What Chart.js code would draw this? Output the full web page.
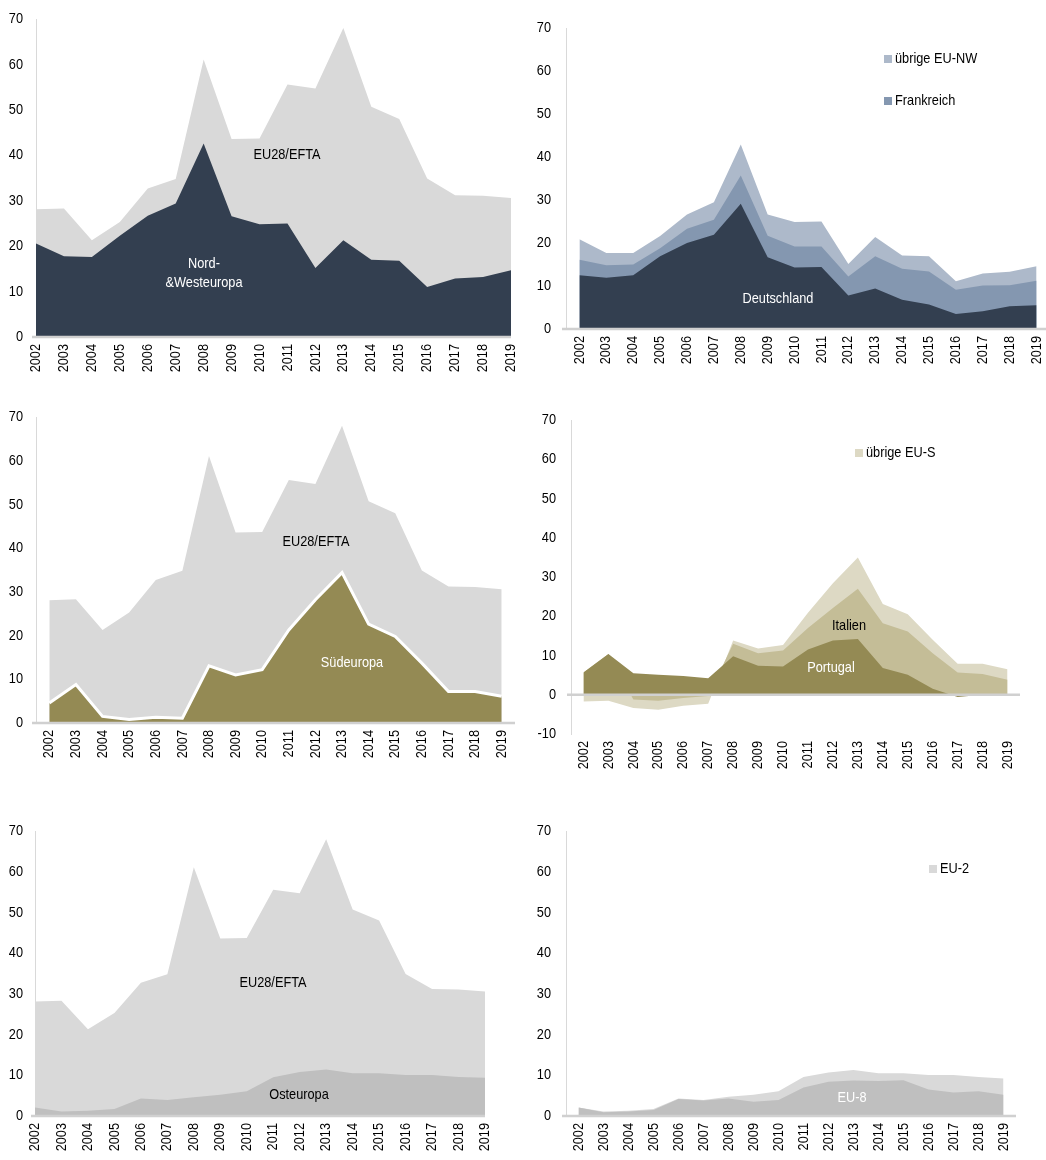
<!DOCTYPE html>
<html>
<head>
<meta charset="utf-8">
<script src="https://cdn.jsdelivr.net/npm/chart.js@4.4.1/dist/chart.umd.min.js"></script>
<style>
  html, body { margin: 0; padding: 0; background: #fff; }
  body { width: 1046px; height: 1160px; overflow: hidden; position: relative; }
  canvas { position: absolute; }
</style>
</head>
<body>
<canvas id="c1" width="523" height="390" style="left:0;top:0"></canvas>
<canvas id="c2" width="530" height="390" style="left:523px;top:0"></canvas>
<canvas id="c3" width="523" height="390" style="left:0;top:390px"></canvas>
<canvas id="c4" width="523" height="390" style="left:523px;top:390px"></canvas>
<canvas id="c5" width="523" height="380" style="left:0;top:780px"></canvas>
<canvas id="c6" width="523" height="380" style="left:523px;top:780px"></canvas>
<script>
// years on the x axis
const years = ['2002', '2003', '2004', '2005', '2006', '2007', '2008', '2009', '2010',
    '2011', '2012', '2013', '2014', '2015', '2016', '2017', '2018', '2019'];

// EU28/EFTA total (same in the three left charts)
const eu28Efta = [28.1, 28.3, 21.3, 25.3, 32.7, 34.8, 61.1, 43.6, 43.7, 55.6, 54.7, 68.0, 50.7, 48.0, 34.9, 31.2, 31.1, 30.6];

// Nord- & Westeuropa
const nordWest = [20.6, 17.8, 17.6, 22.3, 26.7, 29.4, 42.6, 26.6, 24.8, 25.0, 15.2, 21.3, 17.0, 16.8, 11.0, 12.9, 13.2, 14.7];
const deutschland = [12.5, 11.9, 12.5, 16.9, 20.0, 21.9, 29.1, 16.7, 14.3, 14.4, 7.8, 9.4, 6.8, 5.7, 3.5, 4.1, 5.3, 5.5];
const frankreich = [3.6, 2.9, 2.5, 1.9, 3.3, 3.5, 6.6, 5.0, 4.9, 4.8, 4.4, 7.5, 7.2, 7.7, 5.6, 6.0, 4.9, 5.7];
const uebrigeNW = [4.8, 2.9, 2.7, 2.8, 3.3, 4.1, 7.2, 4.9, 5.7, 5.8, 2.9, 4.5, 3.1, 3.5, 2.0, 2.8, 3.1, 3.4];

// Südeuropa
const suedeuropa = [4.6, 8.8, 1.5, 0.8, 1.3, 1.1, 13.1, 11.0, 12.2, 21.3, 28.2, 34.4, 22.6, 19.8, 13.7, 7.2, 7.2, 6.1];
const portugal = [5.7, 10.4, 5.5, 5.1, 4.8, 4.2, 9.8, 7.4, 7.2, 11.5, 13.8, 14.2, 6.8, 5.1, 1.5, -0.6, 0, 0];
const italien = [0, 0, -1.2, -1.5, -0.8, -0.3, 3.2, 3.2, 4.1, 5.5, 8.3, 12.8, 11.4, 11.0, 9.1, 5.7, 5.3, 3.8];
const uebrigeS = [-1.7, -1.5, -2.2, -2.3, -2.0, -2.0, 0.8, 1.2, 1.4, 3.9, 6.3, 8.0, 4.9, 4.4, 3.4, 2.2, 2.6, 2.7];

// Osteuropa
const osteuropa = [2.1, 1.1, 1.3, 1.7, 4.3, 3.9, 4.6, 5.2, 6.1, 9.5, 10.8, 11.4, 10.5, 10.5, 10.1, 10.1, 9.6, 9.4];
const eu8 = [2.1, 0.9, 1.1, 1.5, 4.2, 3.8, 4.3, 3.5, 3.9, 7.0, 8.4, 8.7, 8.6, 8.8, 6.5, 5.8, 6.1, 5.2];
const eu2 = [0, 0.2, 0.2, 0.2, 0.1, 0.1, 0.4, 1.7, 2.2, 2.6, 2.3, 2.6, 1.9, 1.7, 3.6, 4.3, 3.5, 4.0];

const FONT = "'Liberation Sans', Arial, sans-serif";
const NARROW = 0.85; // the original uses a narrow font, squeeze text horizontally
Chart.defaults.font.family = FONT;
Chart.defaults.font.size = 15;
Chart.defaults.color = '#000';

// zero line on top of the areas + free text labels / legend boxes
const notesPlugin = {
    id: 'notes',
    afterDatasetsDraw(chart, args, opts) {
        const ctx = chart.ctx;
        const a = chart.chartArea;
        const y0 = chart.scales.y.getPixelForValue(0);
        ctx.save();
        ctx.strokeStyle = '#d0d0d0';
        ctx.lineWidth = 2.5;
        ctx.beginPath();
        ctx.moveTo(a.left - 4, y0);
        ctx.lineTo(a.right, y0);
        ctx.stroke();
        ctx.font = '15px ' + FONT;
        ctx.textBaseline = 'middle';
        (opts.items || []).forEach(n => {
            if (n.swatch) {
                ctx.fillStyle = n.swatch;
                ctx.fillRect(n.x - 11, n.y - 4, 8, 8);
                ctx.textAlign = 'left';
            } else {
                ctx.textAlign = 'center';
            }
            ctx.fillStyle = n.color || '#000';
            ctx.fillText(n.text, n.x, n.y);
        });
        ctx.restore();
    }
};

function condense(ctx) {
    const orig = ctx.fillText;
    ctx.fillText = function (text, x, y, maxWidth) {
        this.save();
        this.translate(x, y);
        this.scale(NARROW, 1);
        orig.call(this, text, 0, 0, maxWidth);
        this.restore();
    };
    return ctx;
}

function area(label, data, color, order, extra) {
    return Object.assign({
        label: label,
        data: data,
        backgroundColor: color,
        borderWidth: 0,
        pointRadius: 0,
        tension: 0,
        fill: 'origin',
        order: order
    }, extra || {});
}

// box: chart area inside the canvas {l, t, r, b}
function makeChart(id, datasets, box, cfg) {
    const cv = document.getElementById(id);
    return new Chart(condense(cv.getContext('2d')), {
        type: 'line',
        data: { labels: years, datasets: datasets },
        plugins: [notesPlugin],
        options: {
            responsive: false,
            animation: false,
            events: [],
            layout: { padding: { left: 0, top: box.t, right: cv.width - box.r, bottom: 0 } },
            plugins: {
                legend: { display: false },
                tooltip: { enabled: false },
                notes: { items: cfg.notes }
            },
            scales: {
                x: {
                    offset: cfg.offset,
                    grid: { display: false, drawTicks: false },
                    border: { display: false },
                    ticks: { minRotation: 90, maxRotation: 90, autoSkip: false, padding: 7 },
                    afterFit: s => { s.height = cv.height - box.b; s.paddingLeft = 0; s.paddingRight = 0; }
                },
                y: {
                    stacked: !!cfg.stacked,
                    min: cfg.min || 0,
                    max: 70,
                    grid: { display: false, drawTicks: false },
                    border: { display: true, color: '#d9d9d9', width: 1 },
                    ticks: { stepSize: 10, padding: cfg.yPad },
                    afterFit: s => { s.width = box.l; s.paddingTop = 0; s.paddingBottom = 0; }
                }
            }
        }
    });
}

// Nord- & Westeuropa vs EU28/EFTA
makeChart('c1', [
    area('Nord-&Westeuropa', nordWest, '#333f50', 0),
    area('EU28/EFTA', eu28Efta, '#d9d9d9', 1)
], { l: 36, t: 19, r: 511, b: 337 }, {
    offset: false,
    yPad: 13,
    notes: [
        { text: 'EU28/EFTA', x: 287, y: 155 },
        { text: 'Nord-', x: 204, y: 264, color: '#fff' },
        { text: '&Westeuropa', x: 204, y: 283, color: '#fff' }
    ]
});

// Deutschland / Frankreich / übrige EU-NW
makeChart('c2', [
    area('Deutschland', deutschland, '#333f50', 0),
    area('Frankreich', frankreich, '#8497b0', 1),
    area('übrige EU-NW', uebrigeNW, '#adb9ca', 2)
], { l: 43, t: 28, r: 527, b: 329 }, {
    offset: true,
    stacked: true,
    yPad: 15,
    notes: [
        { text: 'Deutschland', x: 255, y: 299, color: '#fff' },
        { text: 'übrige EU-NW', x: 372, y: 59, swatch: '#adb9ca' },
        { text: 'Frankreich', x: 372, y: 101, swatch: '#8497b0' }
    ]
});

// Südeuropa vs EU28/EFTA
makeChart('c3', [
    area('Südeuropa', suedeuropa, '#948a54', 0, { borderColor: '#fff', borderWidth: 3 }),
    area('EU28/EFTA', eu28Efta, '#d9d9d9', 1)
], { l: 36, t: 27, r: 515, b: 333 }, {
    offset: true,
    yPad: 13,
    notes: [
        { text: 'EU28/EFTA', x: 316, y: 152 },
        { text: 'Südeuropa', x: 352, y: 273, color: '#fff' }
    ]
});

// Portugal / Italien / übrige EU-S
makeChart('c4', [
    area('Portugal', portugal, '#948a54', 0),
    area('Italien', italien, '#c4bd97', 1),
    area('übrige EU-S', uebrigeS, '#ddd9c4', 2)
], { l: 48, t: 30, r: 497, b: 344 }, {
    offset: true,
    stacked: true,
    min: -10,
    yPad: 15,
    notes: [
        { text: 'Italien', x: 326, y: 236 },
        { text: 'Portugal', x: 308, y: 278, color: '#fff' },
        { text: 'übrige EU-S', x: 343, y: 63, swatch: '#ddd9c4' }
    ]
});

// Osteuropa vs EU28/EFTA
makeChart('c5', [
    area('Osteuropa', osteuropa, '#bfbfbf', 0),
    area('EU28/EFTA', eu28Efta, '#d9d9d9', 1)
], { l: 35, t: 51, r: 485, b: 336 }, {
    offset: false,
    yPad: 12,
    notes: [
        { text: 'EU28/EFTA', x: 273, y: 203 },
        { text: 'Osteuropa', x: 299, y: 315 }
    ]
});

// EU-8 / EU-2
makeChart('c6', [
    area('EU-8', eu8, '#bfbfbf', 0),
    area('EU-2', eu2, '#d9d9d9', 1)
], { l: 43, t: 51, r: 493, b: 336 }, {
    offset: true,
    stacked: true,
    yPad: 15,
    notes: [
        { text: 'EU-8', x: 329, y: 318, color: '#fff' },
        { text: 'EU-2', x: 417, y: 89, swatch: '#d9d9d9' }
    ]
});
</script>
</body>
</html>
